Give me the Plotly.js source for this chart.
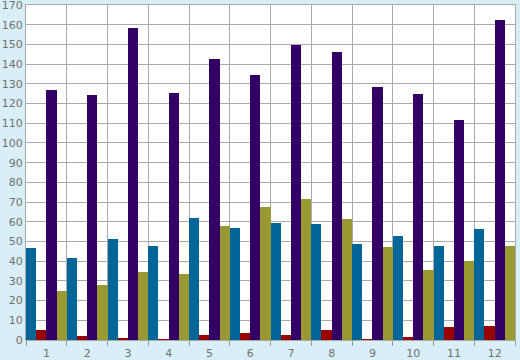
<!DOCTYPE html>
<html><head><meta charset="utf-8">
<script src="https://cdn.plot.ly/plotly-3.0.1.min.js"></script>
<style>html,body{margin:0;padding:0;background:#d9eff7;}#chart{width:520px;height:360px;}</style>
</head><body><div id="chart"></div>
<script>
const categories = ['1','2','3','4','5','6','7','8','9','10','11','12'];
const seriesBlue   = [46.7, 41.6, 51.3, 47.7, 61.9, 56.9, 59.4, 58.9, 48.7, 52.8, 47.7, 56.3];
const seriesRed    = [5.2, 2.2, 1.2, 0.3, 2.7, 3.7, 2.7, 5.2, 0.5, 1.7, 6.7, 7.2];
const seriesPurple = [126.9, 124.3, 158.3, 125.3, 142.6, 134.5, 149.7, 146.1, 128.4, 124.9, 111.7, 162.4];
const seriesOlive  = [25.0, 28.0, 34.6, 33.5, 57.9, 67.5, 71.6, 61.4, 47.2, 35.5, 40.1, 47.7];
const yTicks = [0,10,20,30,40,50,60,70,80,90,100,110,120,130,140,150,160,170];

const mk = (y, color) => ({type:'bar', x:categories, y:y, marker:{color:color, line:{width:0}}, hoverinfo:'none'});
const data = [
  mk(seriesBlue, '#006699'),
  mk(seriesRed, '#990000'),
  mk(seriesPurple, '#330066'),
  mk(seriesOlive, '#999933')
];
const layout = {
  width:520, height:360,
  margin:{l:26, r:5, t:5, b:20},
  paper_bgcolor:'#d9eff7', plot_bgcolor:'#ffffff',
  showlegend:false, barmode:'group', bargap:0, bargroupgap:0,
  font:{family:'DejaVu Sans, Verdana, sans-serif', size:11, color:'#707070'},
  xaxis:{type:'category', tickson:'boundaries', ticks:'outside', ticklen:5, tickcolor:'#999999',
         ticklabelstandoff:3,
         showgrid:true, gridcolor:'#aaaaaa', gridwidth:1, showline:true, linecolor:'#aaaaaa', mirror:true,
         tickfont:{size:11, color:'#707070'}, fixedrange:true},
  yaxis:{range:[0,170], tickvals:yTicks, ticktext:yTicks.map(String), ticks:'', showgrid:true,
         ticklabeloverflow:'allow',
         gridcolor:'#aaaaaa', gridwidth:1, showline:true, linecolor:'#aaaaaa', mirror:true, zeroline:false,
         tickfont:{size:11, color:'#707070'}, fixedrange:true}
};
Plotly.newPlot('chart', data, layout, {staticPlot:true, displayModeBar:false});
</script></body></html>
